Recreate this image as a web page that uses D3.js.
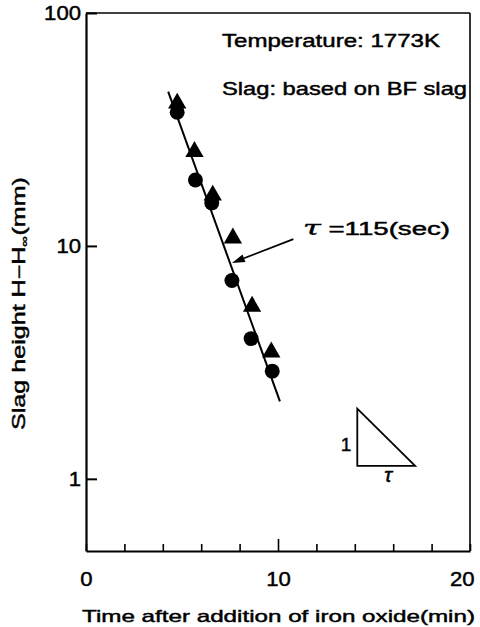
<!DOCTYPE html>
<html>
<head>
<meta charset="utf-8">
<script src="https://cdn.jsdelivr.net/npm/d3@7"></script>
<style>
  body { margin: 0; background: #fff; }
  svg { display: block; }
  text { font-family: "Liberation Sans", Arial, Helvetica, sans-serif; fill: #000; stroke: #000; stroke-width: 0.45px; }
</style>
</head>
<body>
<script>
// ---------- data ----------
const triangleTimes  = [4.75, 5.65, 6.6, 7.65, 8.65, 9.65];
const triangleHeights = [41, 25.4, 16.5, 10.8, 5.5, 3.5];
const circleTimes    = [4.75, 5.7, 6.55, 7.6, 8.6, 9.7];
const circleHeights  = [37.5, 19.2, 15.3, 7.1, 4.0, 2.9];
const fitTimes   = [4.28, 10.1];
const fitHeights = [46, 2.15];
const xTickValues = [0, 2, 4, 6, 8, 10, 12, 14, 16, 18, 20];
const xTickLabels = [0, 10, 20];
const yTickValues = [1, 10, 100];
const arrowFrom = [10.8, 10.7];   // [time, height]
const arrowTo   = [7.6, 8.45];
const slopeTri  = { t0: 14.13, t1: 17.14, hLow: 1.137, hHigh: 2.0 };

const W = 480, H = 627;
const svg = d3.select("body").append("svg").attr("width", W).attr("height", H);

const x = d3.scaleLinear().domain([0, 20]).range([86, 470]);
const y = d3.scaleLog().domain([0.49, 100]).range([551, 13]);

// frame (top & right)
svg.append("line").attr("x1", x(0)).attr("x2", x(20)).attr("y1", y(100)).attr("y2", y(100))
  .attr("stroke", "#000").attr("stroke-width", 1.6);
svg.append("line").attr("x1", x(20)).attr("x2", x(20)).attr("y1", y(100)).attr("y2", y(0.49))
  .attr("stroke", "#000").attr("stroke-width", 1.6);

// left axis
const yAxis = svg.append("g").attr("transform", `translate(${x(0)},0)`)
  .call(d3.axisLeft(y).tickValues(yTickValues).tickFormat(d3.format("d"))
    .tickSizeInner(-11).tickSizeOuter(0).tickPadding(5));
yAxis.select(".domain").attr("stroke-width", 2.2);
yAxis.selectAll(".tick line").attr("stroke-width", 2);
yAxis.selectAll(".tick text").attr("font-size", 20).attr("font-family", "Liberation Sans")
  .attr("textLength", d => String(d).length * 12.3).attr("lengthAdjust", "spacingAndGlyphs");

// bottom axis
const xAxis = svg.append("g").attr("transform", `translate(0,${y(0.49)})`)
  .call(d3.axisBottom(x).tickValues(xTickValues)
    .tickFormat(d => xTickLabels.includes(d) ? d : "")
    .tickSizeInner(-7).tickSizeOuter(0).tickPadding(21));
xAxis.select(".domain").attr("stroke-width", 2.2);
xAxis.selectAll(".tick line").attr("stroke-width", 1.6)
  .attr("y2", d => d === 10 ? -12 : -7);
xAxis.selectAll(".tick text").attr("font-size", 20).attr("font-family", "Liberation Sans")
  .attr("text-anchor", d => d === 20 ? "end" : "middle")
  .attr("dx", d => d === 20 ? 4 : 0)
  .attr("textLength", d => String(d).length * 12.3).attr("lengthAdjust", "spacingAndGlyphs");

// fitted line
const lineGen = d3.line().x(d => x(d[0])).y(d => y(d[1]));
svg.append("path").datum(d3.zip(fitTimes, fitHeights))
  .attr("d", lineGen).attr("fill", "none").attr("stroke", "#000").attr("stroke-width", 2);

// markers
svg.selectAll(".circ").data(d3.zip(circleTimes, circleHeights)).enter().append("path")
  .attr("class", "circ")
  .attr("transform", d => `translate(${x(d[0])},${y(d[1])})`)
  .attr("d", d3.symbol().type(d3.symbolCircle).size(175)).attr("fill", "#000");
svg.selectAll(".tri").data(d3.zip(triangleTimes, triangleHeights)).enter().append("path")
  .attr("class", "tri")
  .attr("transform", d => `translate(${x(d[0])},${y(d[1])})`)
  .attr("d", d3.symbol().type(d3.symbolTriangle).size(145)).attr("fill", "#000");

// arrow
const ax0 = x(arrowFrom[0]), ay0 = y(arrowFrom[1]), ax1 = x(arrowTo[0]), ay1 = y(arrowTo[1]);
const ang = Math.atan2(ay1 - ay0, ax1 - ax0);
const hl = 13, hw = 4;
const bx = ax1 - hl * Math.cos(ang), by = ay1 - hl * Math.sin(ang);
svg.append("line").attr("x1", ax0).attr("y1", ay0).attr("x2", bx).attr("y2", by)
  .attr("stroke", "#000").attr("stroke-width", 1.8);
svg.append("path")
  .attr("d", `M${ax1},${ay1}L${bx + hw * Math.sin(ang)},${by - hw * Math.cos(ang)}L${bx - hw * Math.sin(ang)},${by + hw * Math.cos(ang)}Z`)
  .attr("fill", "#000");

// slope triangle
svg.append("path")
  .attr("d", `M${x(slopeTri.t0)},${y(slopeTri.hHigh)}L${x(slopeTri.t0)},${y(slopeTri.hLow)}L${x(slopeTri.t1)},${y(slopeTri.hLow)}Z`)
  .attr("fill", "none").attr("stroke", "#000").attr("stroke-width", 1.8).attr("stroke-linejoin", "miter");
svg.append("text").attr("x", x(slopeTri.t0) - 6).attr("y", (y(slopeTri.hHigh) + y(slopeTri.hLow)) / 2 + 14)
  .attr("text-anchor", "end").attr("font-size", 19).text("1");
svg.append("text").attr("x", (x(slopeTri.t0) + x(slopeTri.t1)) / 2 + 2).attr("y", y(slopeTri.hLow) + 16)
  .attr("text-anchor", "middle").attr("font-size", 21).attr("font-family", "DejaVu Serif")
  .attr("font-style", "italic").text("τ");

// annotations
svg.append("text").attr("x", 222).attr("y", 47).attr("font-size", 18)
  .attr("textLength", 218).attr("lengthAdjust", "spacingAndGlyphs").text("Temperature: 1773K");
svg.append("text").attr("x", 222).attr("y", 95).attr("font-size", 18)
  .attr("textLength", 245).attr("lengthAdjust", "spacingAndGlyphs").text("Slag: based on BF slag");
const tau = svg.append("text").attr("x", 303).attr("y", 235).attr("font-size", 18)
  .attr("textLength", 147).attr("lengthAdjust", "spacingAndGlyphs");
tau.append("tspan").attr("font-family", "DejaVu Serif").attr("font-style", "italic").attr("font-size", 21).text("τ");
tau.append("tspan").text(" =115(sec)");

// axis titles
svg.append("text").attr("x", 82).attr("y", 622).attr("font-size", 17)
  .attr("textLength", 393).attr("lengthAdjust", "spacingAndGlyphs")
  .text("Time after addition of iron oxide(min)");
const yl = svg.append("text").attr("transform", "translate(25,430) rotate(-90)")
  .attr("font-size", 18).attr("textLength", 253).attr("lengthAdjust", "spacingAndGlyphs");
yl.append("tspan").text("Slag height H\u2212H");
yl.append("tspan").attr("font-size", 11).attr("dy", 3).text("\u221E");
yl.append("tspan").attr("dy", -3).text("(mm)");
</script>
</body>
</html>
